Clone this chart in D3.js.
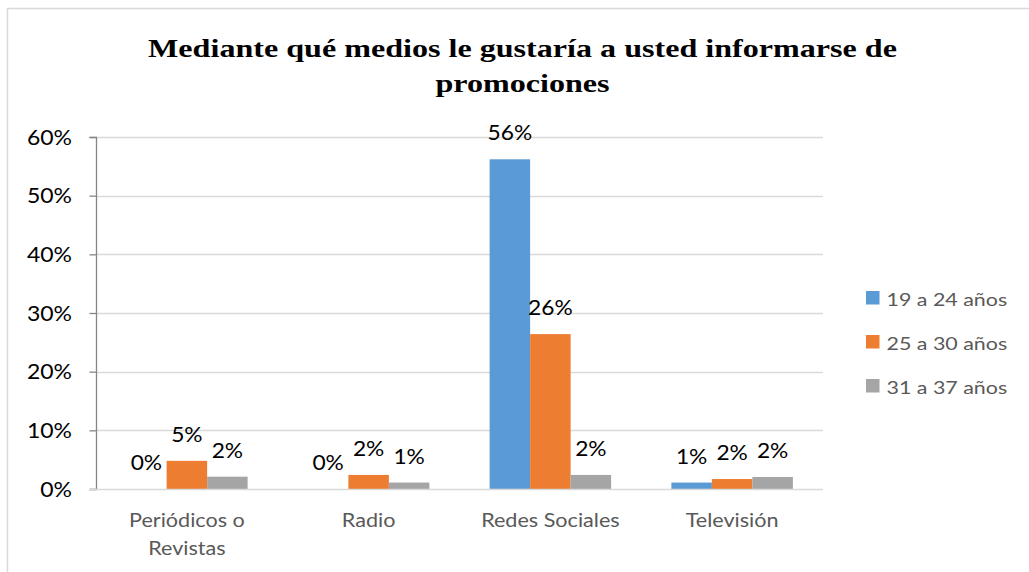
<!DOCTYPE html>
<html><head><meta charset="utf-8">
<script src="https://cdn.jsdelivr.net/npm/d3@7"></script>
<style>body{margin:0;background:#fff}svg{display:block}</style>
</head><body>
<svg id="c" width="1029" height="572"></svg>
<script>
const categories = [["Periódicos o","Revistas"],["Radio"],["Redes Sociales"],["Televisión"]];
const seriesNames = ["19 a 24 años","25 a 30 años","31 a 37 años"];
const s1 = [0.0, 0.0, 56.2, 1.1];
const s2 = [4.8, 2.4, 26.4, 1.7];
const s3 = [2.1, 1.1, 2.4, 2.05];
const labels1 = ["0%","0%","56%","1%"];
const labels2 = ["5%","2%","26%","2%"];
const labels3 = ["2%","1%","2%","2%"];
const yTicks = [0,10,20,30,40,50,60];
const colors = ["#5B9BD5","#ED7D31","#A5A5A5"];
const title = ["Mediante qué medios le gustaría a usted informarse de","promociones"];

const series = [s1,s2,s3], seriesLabels=[labels1,labels2,labels3];
const svg = d3.select("#c");
const SANS = "Lato, Carlito, sans-serif";
function place(sel, fx, fy, sx){
  sel.attr("x",0).attr("y",0).attr("transform",(d,i)=>`translate(${fx(d,i)},${fy(d,i)}) scale(${sx},1)`);
}
// outer border
svg.append("rect").attr("x",7.5).attr("y",8.5).attr("width",1030).attr("height",600)
  .attr("fill","none").attr("stroke","#d9d9d9").attr("stroke-width",1.5);

const L=96, R=823, T=137, B=489;
const x = d3.scaleBand().domain(d3.range(categories.length)).range([L,R]);
const gw = 121.5, bw = gw/3;
const y = d3.scaleLinear().domain([0,60]).range([B,T]);

// gridlines
svg.append("g").selectAll("line").data(yTicks.filter(d=>d>0)).join("line")
  .attr("x1",L).attr("x2",R).attr("y1",d=>Math.round(y(d))+0.5).attr("y2",d=>Math.round(y(d))+0.5)
  .attr("stroke","#d9d9d9").attr("stroke-width",1.3);

// bars
series.forEach((s,si)=>{
  const bx = (d,i)=>x(i)+x.bandwidth()/2-gw/2+si*bw;
  svg.append("g").selectAll("rect").data(s).join("rect")
    .attr("x",bx).attr("width",bw)
    .attr("y",d=>y(d)).attr("height",d=>B-y(d))
    .attr("fill",colors[si]);
  const t = svg.append("g").selectAll("text").data(s).join("text")
    .attr("text-anchor","middle")
    .attr("font-family",SANS).attr("font-size",21.5).attr("fill","#000")
    .text((d,i)=>seriesLabels[si][i]);
  place(t,(d,i)=>bx(d,i)+bw/2,d=>y(d)-19,1.06);
});

// y axis
const yAxis = d3.axisLeft(y).tickValues(yTicks).tickFormat(d=>d+"%").tickSize(7).tickPadding(18);
const ga = svg.append("g").attr("transform",`translate(${L+0.5},0)`).call(yAxis);
ga.select(".domain").attr("stroke","#868686").attr("stroke-width",1.3).attr("d",`M-7,${T+0.5}H0V${B+0.5}H-7`);
ga.selectAll(".tick line").attr("stroke","#868686").attr("stroke-width",1.3);
ga.selectAll(".tick text").attr("font-family",SANS).attr("font-size",21.5).attr("fill","#000")
  .attr("x",0).attr("dy","0.33em").attr("transform","translate(-24.5,0) scale(1.07,1)");

// x axis line
svg.append("line").attr("x1",L-7).attr("x2",R).attr("y1",B+0.5).attr("y2",B+0.5).attr("stroke","#d9d9d9").attr("stroke-width",1.5);

// category labels
categories.forEach((lines,i)=>{
  const t = svg.append("g").selectAll("text").data(lines).join("text")
    .attr("text-anchor","middle").attr("font-family",SANS).attr("font-size",20).attr("fill","#595959")
    .text(d=>d);
  place(t,()=>x(i)+x.bandwidth()/2,(d,j)=>527+j*28.3,1.08);
});

// legend
const lg = svg.append("g").selectAll("g").data(seriesNames).join("g")
  .attr("transform",(d,i)=>`translate(866,${291+i*44})`);
lg.append("rect").attr("x",0).attr("y",0).attr("width",13.5).attr("height",13.5).attr("fill",(d,i)=>colors[i]);
const lt = lg.append("text").attr("font-family",SANS).attr("font-size",18).attr("fill","#595959").text(d=>d);
place(lt,()=>20.5,()=>15,1.19);

// title
const tt = svg.append("g").selectAll("text").data(title).join("text")
  .attr("text-anchor","middle")
  .attr("font-family","'Liberation Serif', 'Times New Roman', serif").attr("font-weight","bold").attr("font-size",26).attr("fill","#000")
  .text(d=>d);
place(tt,()=>522.5,(d,i)=>57+i*35.3,1.235);
</script>
</body></html>
